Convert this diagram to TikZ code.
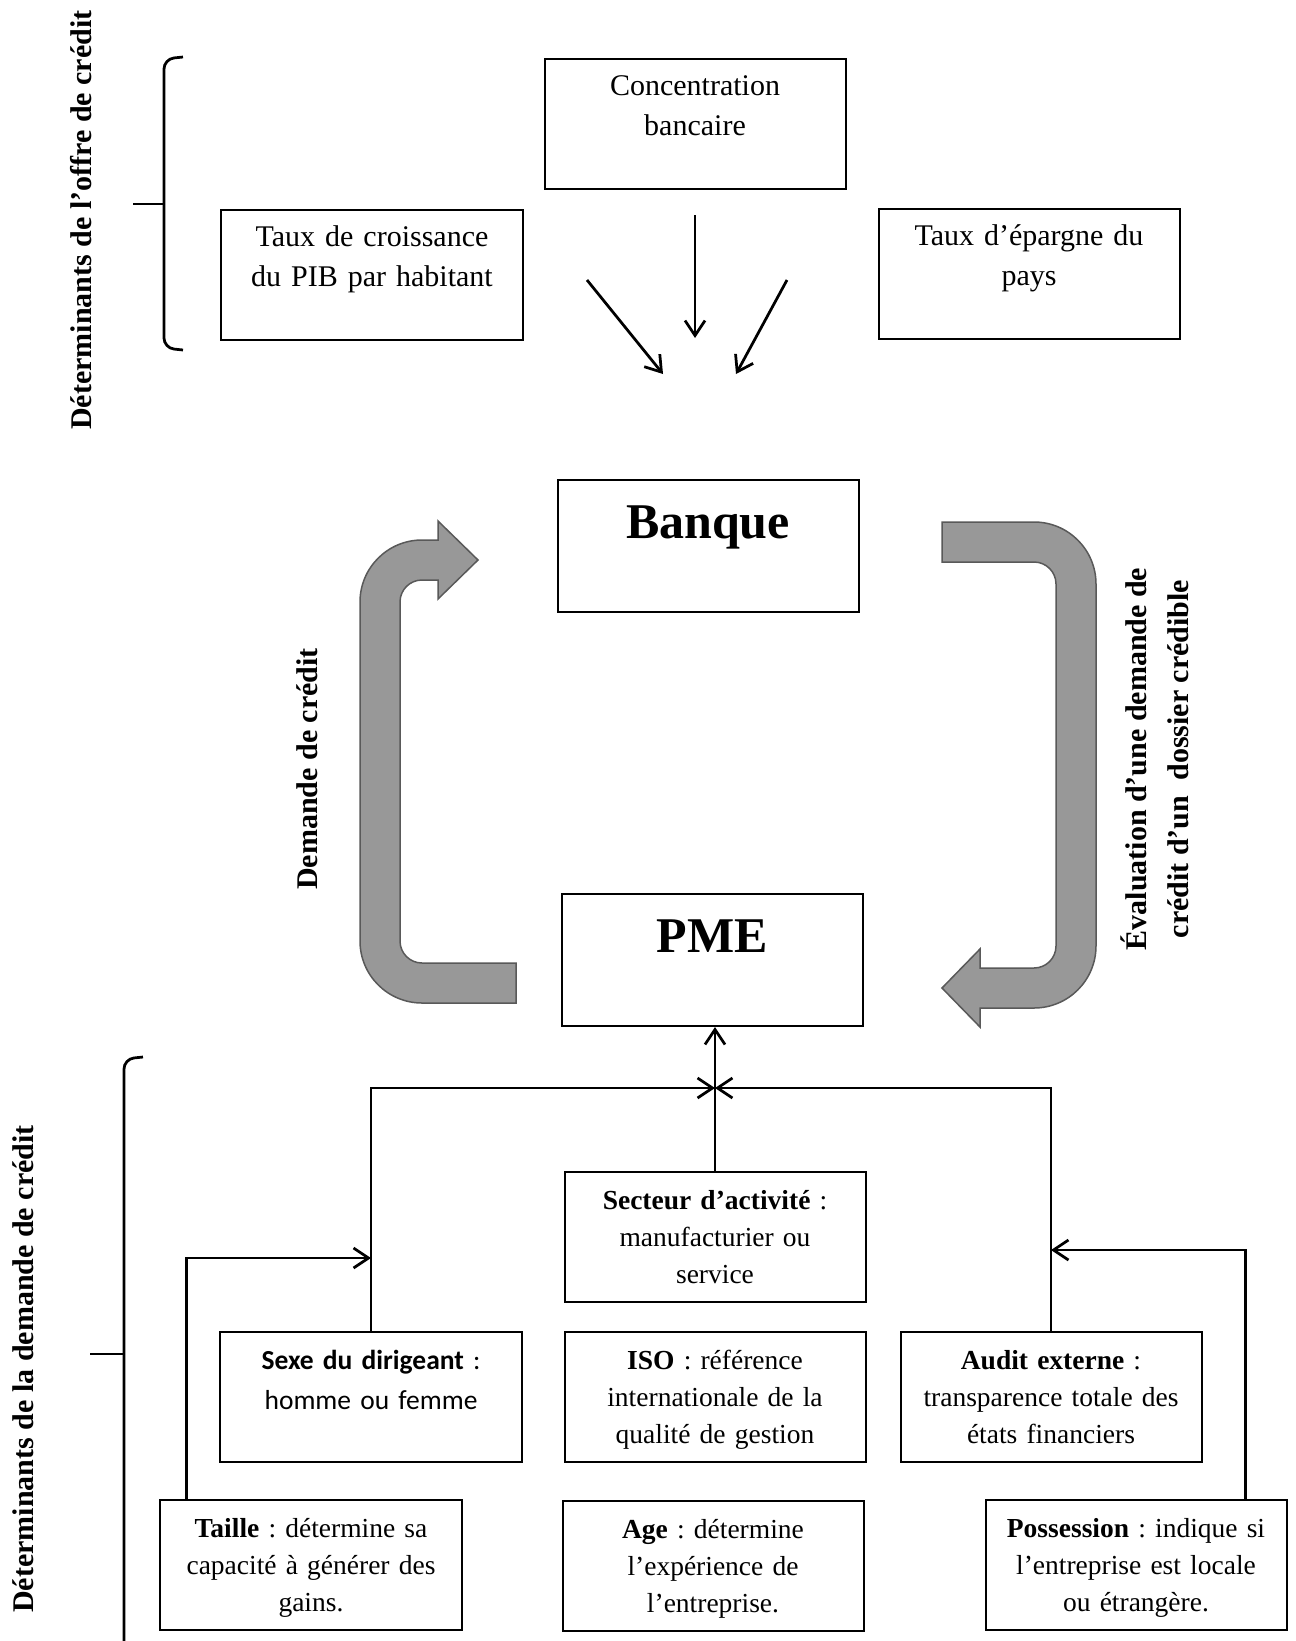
\documentclass[tikz,border=0pt]{standalone}
\usepackage{fontspec}
\setmainfont{Liberation Serif}
\newfontfamily\calibrifont{Carlito}
\usetikzlibrary{arrows.meta}
\frenchspacing

\definecolor{grisfleche}{RGB}{152,152,152}

\tikzset{
  boite/.style={draw, line width=0.8pt, anchor=north, align=center,
    text width=112pt, inner xsep=4.2pt, inner ysep=0pt},
  haut/.style={boite, font=\fontsize{12}{16}\selectfont,
    text height=14.5pt, text depth=37.5pt},
  bas/.style={boite, font=\fontsize{11}{14.8}\selectfont,
    text height=14.9pt, text depth=37.1pt},
  acteur/.style={boite, font=\fontsize{20}{24}\selectfont\bfseries,
    text height=23.3pt, text depth=29.5pt},
  titre/.style={font=\fontsize{12}{16.8}\selectfont\bfseries, rotate=90, align=center},
  lien/.style={line width=1.1pt},
  fleche/.style={fill=grisfleche, draw=black!65, line width=0.6pt}
}

\begin{document}
\begin{tikzpicture}[x=0.4pt, y=-0.4pt, >={Straight Barb[length=6pt,width=8pt]}]
  \fill[white] (0,0) rectangle (1295,1641); %page
  \useasboundingbox (0,0) rectangle (1295,1641);

  %Determinants de l'offre
  \node[haut] (conc) at (695,58) {Concentration\\bancaire};
  \node[haut] (croiss) at (372,209) {Taux de croissance\\du PIB par habitant};
  \node[haut] (epargne) at (1029,208) {Taux d’épargne du\\pays};
  \node[titre] (offre) at (81,220) {Déterminants de l’offre de crédit};
  \draw[lien, rounded corners=4pt] (183,57) -- (164,59) -- (164,348) -- (183,350); %brace
  \draw[lien] (164,204) -- (133,204);

  \coordinate (c1) at (695,215);   %from concentration
  \coordinate (c2) at (695,338);
  \coordinate (g1) at (587,280);   %from croissance
  \coordinate (g2) at (663,374);
  \coordinate (d1) at (787,280);   %from epargne
  \coordinate (d2) at (736,374);
  \draw[lien,->] (c1) -- (c2);
  \draw[lien,->] (g1) -- (g2);
  \draw[lien,->] (d1) -- (d2);

  %Banque et PME
  \node[acteur] (banque) at (708,479) {Banque};
  \node[acteur] (pme) at (712,893) {PME};

  %Left curved arrow
  \filldraw[fleche] (516,963) -- (422,963) arc[start angle=90,end angle=180,radius=22]
    -- (400,602) arc[start angle=180,end angle=270,radius=22]
    -- (438,580) -- (438,599) -- (478,560) -- (438,521) -- (438,540)
    -- (422,540) arc[start angle=270,end angle=180,radius=62]
    -- (360,941) arc[start angle=180,end angle=90,radius=62]
    -- (516,1003) -- cycle;
  \node[titre] (demande) at (307,769) {Demande de crédit};

  %Right curved arrow
  \filldraw[fleche] (942,522) -- (1034,522) arc[start angle=270,end angle=360,radius=62]
    -- (1096,946) arc[start angle=0,end angle=90,radius=62]
    -- (980,1008) -- (980,1027) -- (942,988) -- (980,949) -- (980,968)
    -- (1034,968) arc[start angle=90,end angle=0,radius=22]
    -- (1056,584) arc[start angle=0,end angle=-90,radius=22]
    -- (942,562) -- cycle;
  \node[titre] (evaluation) at (1155,759) {Évaluation d’une demande de\\crédit d’un \ dossier crédible};

  %Determinants de la demande
  \node[bas] (secteur) at (715,1171) {\textbf{Secteur d’activité} :\\manufacturier ou\\service};
  \node[bas, font=\calibrifont\fontsize{11}{16}\selectfont] (sexe) at (371,1331)
    {\textbf{Sexe du dirigeant} :\\homme ou femme};
  \node[bas] (iso) at (715,1331) {\textbf{ISO} : référence\\internationale de la\\qualité de gestion};
  \node[bas] (audit) at (1051,1331) {\textbf{Audit externe} :\\transparence totale des\\états financiers};
  \node[bas] (taille) at (311,1499) {\textbf{Taille} : détermine sa\\capacité à générer des\\gains.};
  \node[bas] (age) at (713,1500) {\textbf{Age} : détermine\\l’expérience de\\l’entreprise.};
  \node[bas] (possession) at (1136,1499) {\textbf{Possession} : indique si\\l’entreprise est locale\\ou étrangère.};
  \node[titre] (offre) at (23,1369) {Déterminants de la demande de crédit};
  \draw[lien, rounded corners=4pt] (143,1057) -- (124,1059) -- (124,1641); %brace
  \draw[lien] (124,1354) -- (90,1354);

  \coordinate (jonction) at (secteur.north |- 0,1088);
  \draw[lien,->] (secteur.north) -- (secteur.north |- pme.south);
  \draw[lien,->] (sexe.north) |- (jonction);
  \draw[lien,->] (audit.north) |- (jonction);
  \draw[lien,->] ([xshift=10.8pt]taille.north west) |- (sexe.north |- 0,1258);
  \draw[lien,->] ([xshift=-16.8pt]possession.north east) |- (audit.north |- 0,1250);
\end{tikzpicture}
\end{document}
